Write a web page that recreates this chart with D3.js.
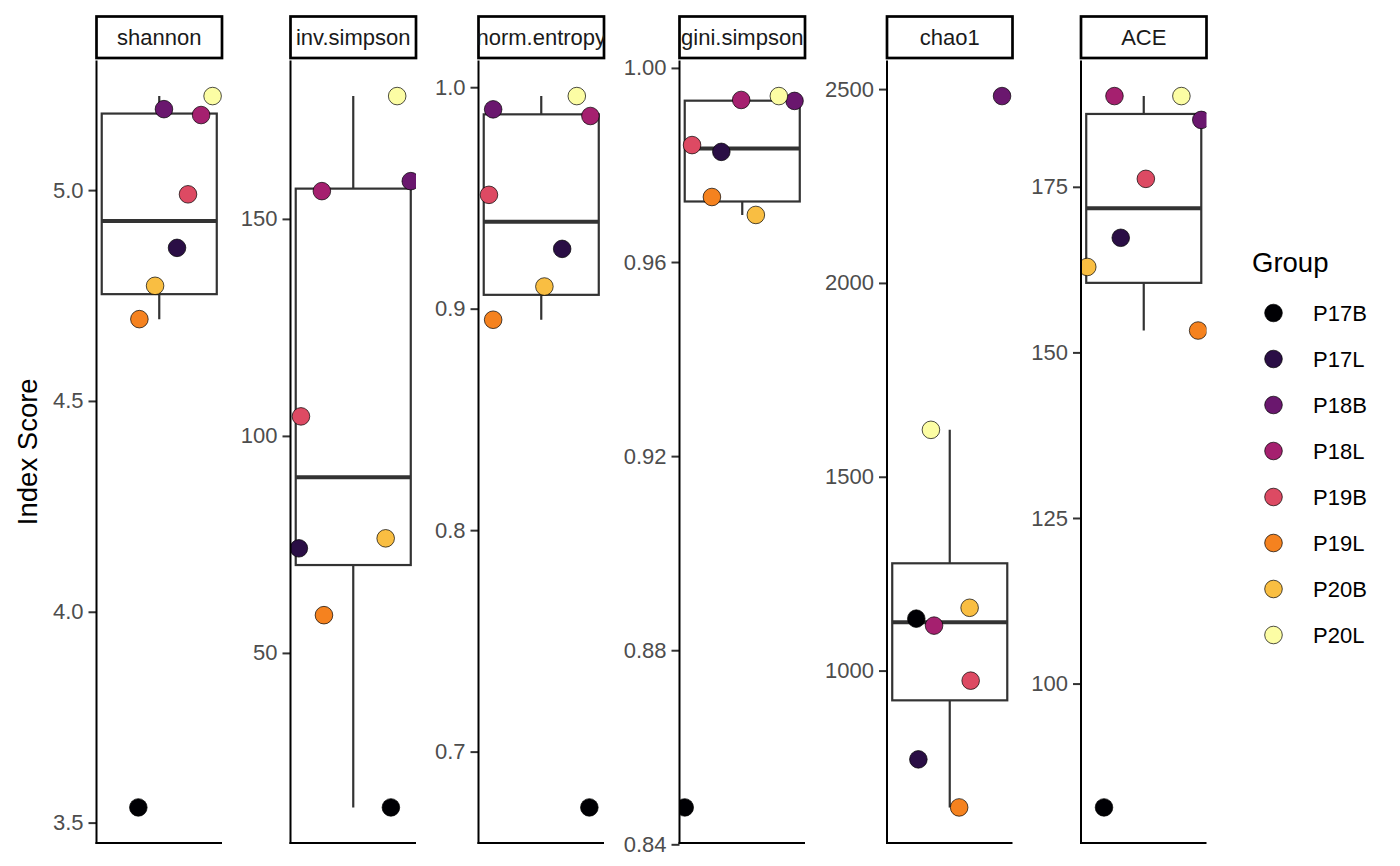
<!DOCTYPE html>
<html>
<head>
<meta charset="utf-8">
<script src="https://cdn.jsdelivr.net/npm/d3@7"></script>
<style>
  body { margin: 0; background: #fff; }
  svg { font-family: "Liberation Sans", Arial, Helvetica, sans-serif; }
</style>
</head>
<body>
<div id="chart"></div>
<script>
// groups and fill colours
const groups = ['P17B', 'P17L', 'P18B', 'P18L', 'P19B', 'P19L', 'P20B', 'P20L'];
const groupColors = ['#000004', '#2A0E45', '#6A176E', '#A5206F', '#DD4A63', '#F5821F', '#F9BE42', '#FCFDA4'];

const metrics = ['shannon', 'inv.simpson', 'norm.entropy', 'gini.simpson', 'chao1', 'ACE'];

// values per metric, in group order
const shannon = [3.536, 4.863, 5.192, 5.178, 4.990, 4.694, 4.773, 5.223];
const invSimpson = [14.4, 74.1, 158.7, 156.4, 104.5, 58.7, 76.4, 178.3];
const normEntropy = [0.6748, 0.927, 0.990, 0.987, 0.9514, 0.895, 0.910, 0.996];
const giniSimpson = [0.8476, 0.9827, 0.9932, 0.9934, 0.9841, 0.9734, 0.9697, 0.9942];
const chao1 = [1134, 771, 2482, 1116, 974, 647, 1162, 1621];
const ace = [81.3, 167.3, 185.1, 188.7, 176.2, 153.3, 162.9, 188.7];

// horizontal jitter of each point, in category units
const shannonJitter = [-0.20, 0.17, 0.045, 0.40, 0.275, -0.19, -0.04, 0.51];
const invSimpsonJitter = [0.36, -0.52, 0.55, -0.30, -0.50, -0.28, 0.31, 0.42];
const normEntropyJitter = [0.46, 0.20, -0.46, 0.47, -0.50, -0.46, 0.03, 0.34];
const giniSimpsonJitter = [-0.55, -0.20, 0.50, -0.01, -0.48, -0.29, 0.13, 0.35];
const chao1Jitter = [-0.32, -0.30, 0.50, -0.15, 0.20, 0.09, 0.19, -0.18];
const aceJitter = [-0.38, -0.22, 0.55, -0.28, 0.02, 0.52, -0.54, 0.36];

// tick labels
const shannonTicks = [3.5, 4.0, 4.5, 5.0];
const invSimpsonTicks = [50, 100, 150];
const normEntropyTicks = [0.7, 0.8, 0.9, 1.0];
const giniSimpsonTicks = [0.84, 0.88, 0.92, 0.96, 1.00];
const chao1Ticks = [1000, 1500, 2000, 2500];
const aceTicks = [100, 125, 150, 175];

const panels = [
  { name: metrics[0], values: shannon, jitter: shannonJitter, ticks: shannonTicks, fmt: '.1f' },
  { name: metrics[1], values: invSimpson, jitter: invSimpsonJitter, ticks: invSimpsonTicks, fmt: 'd' },
  { name: metrics[2], values: normEntropy, jitter: normEntropyJitter, ticks: normEntropyTicks, fmt: '.1f' },
  { name: metrics[3], values: giniSimpson, jitter: giniSimpsonJitter, ticks: giniSimpsonTicks, fmt: '.2f' },
  { name: metrics[4], values: chao1, jitter: chao1Jitter, ticks: chao1Ticks, fmt: 'd' },
  { name: metrics[5], values: ace, jitter: aceJitter, ticks: aceTicks, fmt: 'd' },
];

const width = 1400;
const height = 866;
const panelLefts = [96.5, 290.5, 478.5, 679.5, 887, 1081];
const panelWidth = 125.5;
const panelTop = 60.5;
const panelBottom = 843;
const stripTop = 16.5;
const stripBottom = 58;
const boxHalf = 0.55;
const pointR = 8.8;

const svg = d3.select('#chart').append('svg')
  .attr('width', width)
  .attr('height', height);

const defs = svg.append('defs');

function boxStats(vals) {
  let s = vals.slice().sort(d3.ascending);
  let q1 = d3.quantileSorted(s, 0.25);
  let med = d3.quantileSorted(s, 0.5);
  let q3 = d3.quantileSorted(s, 0.75);
  let iqr = q3 - q1;
  let lo = d3.min(s.filter(v => v >= q1 - 1.5 * iqr));
  let hi = d3.max(s.filter(v => v <= q3 + 1.5 * iqr));
  return { q1, med, q3, lo, hi };
}

panels.forEach((p, i) => {
  let g = svg.append('g').attr('transform', `translate(${panelLefts[i]},0)`);

  let [mn, mx] = d3.extent(p.values);
  let pad = (mx - mn) * 0.05;
  let y = d3.scaleLinear().domain([mn - pad, mx + pad]).range([panelBottom, panelTop]);
  let x = d3.scaleLinear().domain([0.4, 1.6]).range([0, panelWidth]);

  defs.append('clipPath').attr('id', `clip-panel-${i}`)
    .append('rect')
    .attr('x', 0).attr('y', panelTop)
    .attr('width', panelWidth).attr('height', panelBottom - panelTop);
  defs.append('clipPath').attr('id', `clip-strip-${i}`)
    .append('rect')
    .attr('x', 0).attr('y', stripTop)
    .attr('width', panelWidth).attr('height', stripBottom - stripTop);

  let plot = g.append('g').attr('clip-path', `url(#clip-panel-${i})`);
  let st = boxStats(p.values);

  // whiskers
  plot.append('line')
    .attr('x1', x(1)).attr('x2', x(1))
    .attr('y1', y(st.q3)).attr('y2', y(st.hi))
    .attr('stroke', '#333').attr('stroke-width', 2.2);
  plot.append('line')
    .attr('x1', x(1)).attr('x2', x(1))
    .attr('y1', y(st.q1)).attr('y2', y(st.lo))
    .attr('stroke', '#333').attr('stroke-width', 2.2);

  // box
  plot.append('rect')
    .attr('x', x(1 - boxHalf))
    .attr('width', x(1 + boxHalf) - x(1 - boxHalf))
    .attr('y', y(st.q3))
    .attr('height', y(st.q1) - y(st.q3))
    .attr('fill', '#fff')
    .attr('stroke', '#333')
    .attr('stroke-width', 2.2);
  plot.append('line')
    .attr('x1', x(1 - boxHalf)).attr('x2', x(1 + boxHalf))
    .attr('y1', y(st.med)).attr('y2', y(st.med))
    .attr('stroke', '#333').attr('stroke-width', 4);

  // jittered points
  plot.selectAll('circle')
    .data(p.values.map((v, k) => ({ v, j: p.jitter[k], k })))
    .enter().append('circle')
      .attr('cx', d => x(1 + d.j))
      .attr('cy', d => y(d.v))
      .attr('r', pointR)
      .attr('fill', d => groupColors[d.k])
      .attr('stroke', '#000')
      .attr('stroke-width', 0.7);

  // y axis
  let axis = g.append('g')
    .call(d3.axisLeft(y).tickValues(p.ticks).tickFormat(d3.format(p.fmt)).tickSize(8).tickPadding(5));
  axis.select('.domain').remove();
  axis.selectAll('.tick line').attr('stroke', '#333').attr('stroke-width', 2);
  axis.selectAll('.tick text')
    .attr('fill', '#4D4D4D')
    .style('font-size', '22px');

  g.append('line')
    .attr('x1', 0).attr('x2', 0)
    .attr('y1', panelTop).attr('y2', panelBottom + 1)
    .attr('stroke', '#000').attr('stroke-width', 2);
  g.append('line')
    .attr('x1', -1).attr('x2', panelWidth)
    .attr('y1', panelBottom).attr('y2', panelBottom)
    .attr('stroke', '#000').attr('stroke-width', 2);

  // strip
  g.append('rect')
    .attr('x', 0).attr('y', stripTop)
    .attr('width', panelWidth).attr('height', stripBottom - stripTop)
    .attr('fill', '#fff')
    .attr('stroke', '#000')
    .attr('stroke-width', 2.7);
  g.append('text')
    .attr('clip-path', `url(#clip-strip-${i})`)
    .attr('x', panelWidth / 2)
    .attr('y', (stripTop + stripBottom) / 2)
    .attr('dy', '0.35em')
    .attr('text-anchor', 'middle')
    .attr('fill', '#1A1A1A')
    .style('font-size', '22px')
    .text(p.name);
});

// y axis title
svg.append('text')
  .attr('transform', `translate(37,${(panelTop + panelBottom) / 2}) rotate(-90)`)
  .attr('text-anchor', 'middle')
  .attr('fill', '#000')
  .style('font-size', '27.5px')
  .text('Index Score');

// legend
let legend = svg.append('g').attr('transform', 'translate(1252,0)');
legend.append('text')
  .attr('x', 0).attr('y', 272)
  .attr('fill', '#000')
  .style('font-size', '27.5px')
  .text('Group');

let keys = legend.selectAll('.key')
  .data(groups)
  .enter().append('g')
    .attr('class', 'key')
    .attr('transform', (d, k) => `translate(0,${313 + k * 46})`);
keys.append('circle')
  .attr('cx', 21.5).attr('cy', 0)
  .attr('r', pointR)
  .attr('fill', (d, k) => groupColors[k])
  .attr('stroke', '#000')
  .attr('stroke-width', 0.7);
keys.append('text')
  .attr('x', 61).attr('y', 0)
  .attr('dy', '0.35em')
  .attr('fill', '#000')
  .style('font-size', '22px')
  .text(d => d);
</script>
</body>
</html>
